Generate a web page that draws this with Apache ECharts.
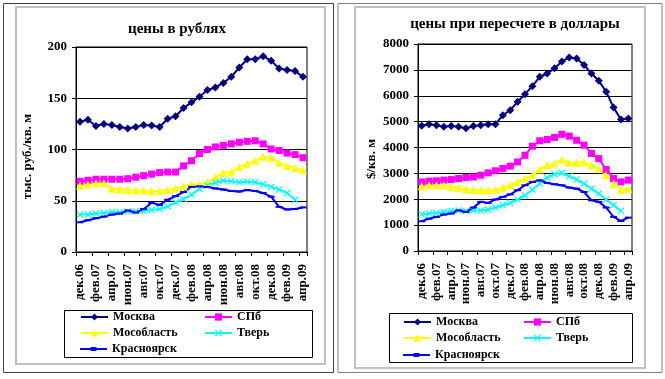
<!DOCTYPE html>
<html><head><meta charset="utf-8">
<script src="https://cdn.jsdelivr.net/npm/echarts@6/dist/echarts.min.js"></script>
<style>html,body{margin:0;padding:0;background:#fff}#c{width:665px;height:379px}</style>
</head><body><div id="c"></div>
<script>
const months = ['дек.06','янв.07','фев.07','мар.07','апр.07','май.07','июн.07','июл.07','авг.07','сен.07','окт.07','ноя.07','дек.07','янв.08','фев.08','мар.08','апр.08','май.08','июн.08','июл.08','авг.08','сен.08','окт.08','ноя.08','дек.08','янв.09','фев.09','мар.09','апр.09'];
const seriesNames = ['Москва','СПб','Мособласть','Тверь','Красноярск'];
const titleRub = 'цены в рублях';
const titleUsd = 'цены при пересчете в доллары';
const axisNameRub = 'тыс. руб./кв. м';
const axisNameUsd = '$/кв. м';
// Prices in thousand rubles per sq. m
const moscowRub = [127,129,123,125,124,122,120.5,122,124,123.5,122,130,132.5,140.5,146,151.5,158,160.5,165,171,180,188,188,191,186.5,179,177.5,176.5,171];
const spbRub = [69,70,71,71,71,71,71.5,73,74.5,76,77.5,78,78,84,89,96,100,102.5,104,105.5,107,108,108.5,105.5,100.5,99,96.5,95,92];
const mosoblRub = [65,66,67,67,62,61,60.5,60,60,59.5,59.5,60.5,62,64,66,66,68,73,77,78,83,86,89,93,92,87,84,82,80];
const tverRub = [36.5,36.5,37.5,38,39,39,39.5,40,40,41,42,44.5,48.5,51.5,56,61.5,65,67.5,69.5,69,68,68.5,68,66,63.5,61,57.5,51,null];
const krasRub = [29,31,33,34.5,36.5,37.5,40.5,38.5,42,48,46,51,54.5,58.5,63.5,64,63.5,62,61,59.5,59,60.5,59.5,57.5,54,44,41.5,42,43.5];
// Prices in USD per sq. m
const moscowUsd = [4840,4900,4860,4800,4830,4800,4740,4830,4860,4900,4900,5250,5440,5770,6060,6370,6730,6860,7060,7320,7480,7440,7190,6860,6580,6150,5550,5080,5120];
const spbUsd = [2670,2700,2710,2740,2760,2800,2840,2860,2930,3020,3100,3190,3280,3440,3700,4050,4260,4310,4390,4510,4440,4280,4090,3770,3570,3150,2800,2670,2740];
const mosoblUsd = [2500,2540,2540,2530,2480,2440,2390,2370,2350,2350,2370,2440,2540,2670,2800,2930,3150,3310,3380,3530,3410,3410,3440,3310,3190,2930,2610,2370,2410];
const tverUsd = [1420,1450,1470,1510,1550,1570,1550,1570,1570,1600,1680,1770,1860,1990,2150,2370,2610,2840,2970,3020,2890,2760,2610,2410,2220,1990,1770,1550,null];
const krasUsd = [1150,1250,1320,1410,1450,1570,1510,1680,1900,1860,1990,2090,2190,2350,2540,2670,2730,2630,2580,2540,2450,2410,2280,1960,1900,1680,1320,1160,1290];

const FONT = '"Liberation Serif","Times New Roman",serif';
const X_SYM = 'path://M0,1.2L1.2,0L5,3.8L8.8,0L10,1.2L6.2,5L10,8.8L8.8,10L5,6.2L1.2,10L0,8.8L3.8,5Z';
const KRAS_ICON = 'path://M0,4L11,4L11,3L17,3L17,4L28,4L28,6L17,6L17,7L11,7L11,6L0,6Z';
const styles = [
  {color:'#000080', symbol:'diamond', symbolSize:8},
  {color:'#FF00FF', symbol:'rect', symbolSize:7},
  {color:'#FFFF00', symbol:'triangle', symbolSize:8},
  {color:'#00FFFF', symbol:X_SYM, symbolSize:7},
  {color:'#0000FF', symbol:'rect', symbolSize:[7,2]}
];
const rubData = [moscowRub, spbRub, mosoblRub, tverRub, krasRub];
const usdData = [moscowUsd, spbUsd, mosoblUsd, tverUsd, krasUsd];

function mkSeries(data, idx){
  return data.map((d,i)=>({
    name: seriesNames[i], type:'line', xAxisIndex: idx, yAxisIndex: idx,
    data: d, symbol: styles[i].symbol, symbolSize: styles[i].symbolSize,
    showAllSymbol: true, connectNulls:false,
    lineStyle:{color:styles[i].color, width:2},
    itemStyle:{color:styles[i].color, borderWidth:0},
    animation:false
  }));
}
function mkX(gi){
  return {type:'category', gridIndex:gi, data:months, boundaryGap:true,
    axisLine:{lineStyle:{color:'#000', width:1}},
    axisTick:{show:true, interval:1, length:4, lineStyle:{color:'#000'}},
    axisLabel:{interval:1, rotate:90, color:'#000', fontFamily:FONT, fontWeight:'bold', fontSize:13, margin:12}
  };
}
function mkY(gi, max, interval, name, pad){
  return {type:'value', gridIndex:gi, min:0, max:max, interval:interval,
    name:name, nameLocation:'middle', nameRotate:90, nameGap:gi===0?42:40,
    nameTextStyle:{color:'#000', fontFamily:FONT, fontWeight:'bold', fontSize:13, padding:[0,pad,0,0]},
    axisLine:{show:true, lineStyle:{color:'#000'}},
    axisTick:{show:true, length:4, lineStyle:{color:'#000'}},
    splitLine:{show:true, lineStyle:{color:'#000', width:1}},
    axisLabel:{color:'#000', fontFamily:FONT, fontWeight:'bold', fontSize:13, margin:9, formatter:v=>String(v)}
  };
}
const legends = [];
const legPos = [
  [[80,311],[204,311],[80,327],[204,327],[80,343]],
  [[403,316],[523,316],[403,332],[523,332],[403,349]]
];
legPos.forEach(pos=>pos.forEach((p,i)=>{
  const item = i===4 ? {name:seriesNames[i], icon:KRAS_ICON} : {name:seriesNames[i]};
  legends.push({data:[item], left:p[0], top:p[1], padding:0, itemWidth:27, itemHeight:9,
    selectedMode:false, textStyle:{color:'#000', fontFamily:FONT, fontWeight:'bold', fontSize:12}});
}));

const chart = echarts.init(document.getElementById('c'), null, {renderer:'canvas'});
chart.setOption({
  backgroundColor:'#fff',
  animation:false,
  title:[
    {text:titleRub, left:172, top:17, textAlign:'center', textStyle:{fontFamily:FONT, fontWeight:'bold', fontSize:15, color:'#000'}},
    {text:titleUsd, left:510, top:12, textAlign:'center', textStyle:{fontFamily:FONT, fontWeight:'bold', fontSize:15, color:'#000'}}
  ],
  legend: legends,
  grid:[
    {left:76, top:47, width:231, height:205, show:true, borderColor:'#000', borderWidth:1, backgroundColor:'#fff'},
    {left:418, top:44, width:214, height:207, show:true, borderColor:'#000', borderWidth:1, backgroundColor:'#fff'}
  ],
  xAxis:[mkX(0), mkX(1)],
  yAxis:[mkY(0,200,50,axisNameRub,14), mkY(1,8000,1000,axisNameUsd,23)],
  series:[...mkSeries(rubData,0), ...mkSeries(usdData,1)],
  graphic:[
    {type:'rect', shape:{x:3.5,y:3.5,width:330,height:369}, style:{fill:null, stroke:'#404040', lineWidth:1}, z:-1},
    {type:'rect', shape:{x:16,y:7,width:309,height:357}, style:{fill:null, stroke:'#c0c0c0', lineWidth:2}, z:-1},
    {type:'rect', shape:{x:338,y:3.5,width:324,height:369}, style:{fill:null, stroke:'#808080', lineWidth:1}, z:-1},
    {type:'rect', shape:{x:355,y:7,width:290,height:361}, style:{fill:null, stroke:'#c0c0c0', lineWidth:2}, z:-1},
    {type:'rect', shape:{x:64.5,y:310.5,width:248,height:47}, style:{fill:null, stroke:'#000', lineWidth:1}, z:-1},
    {type:'rect', shape:{x:389.5,y:313.5,width:243,height:49}, style:{fill:null, stroke:'#000', lineWidth:1}, z:-1}
  ]
});
</script></body></html>
